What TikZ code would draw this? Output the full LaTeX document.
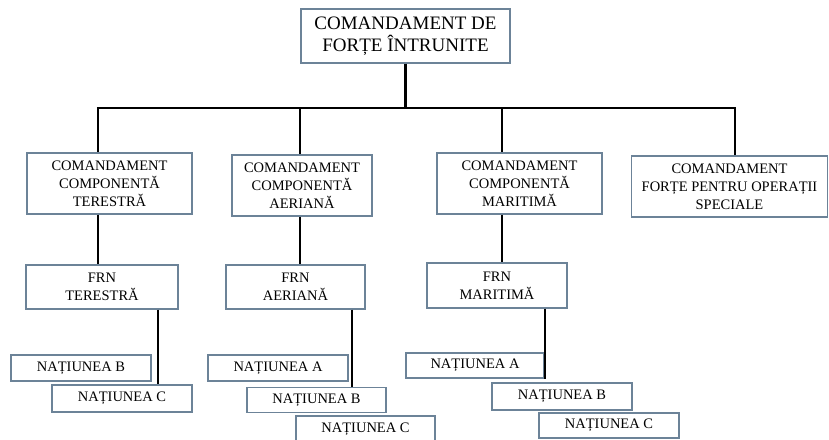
\documentclass[tikz,border=0pt]{standalone}
\usepackage{fontspec}
\setmainfont{Liberation Serif}
\usetikzlibrary{positioning,calc}
\definecolor{Frame}{HTML}{6C8398}
\tikzset{
  unit/.style={draw=Frame,line width=1.1pt,fill=white,inner sep=0pt,align=center,
    font=\fontsize{14.5}{18}\selectfont},
  link/.style={line width=2.2pt,black},
}

\begin{document}
\begin{tikzpicture}[x=1pt,y=-1pt]
        \useasboundingbox (0,0) rectangle (829,439);
        % comandament de varf
        \node[unit,minimum width=209,minimum height=54,font=\fontsize{19}{22}\selectfont] (top) at (405.5,36) {COMANDAMENT DE\\FORȚE ÎNTRUNITE};
        % componente
        \node[unit,minimum width=165,minimum height=61] (cct) at (109.5,183.5) {COMANDAMENT\\COMPONENTĂ\\TERESTRĂ};
        \node[unit,minimum width=140,minimum height=61] (cca) at (302,185.5) {COMANDAMENT\\COMPONENTĂ\\AERIANĂ};
        \node[unit,minimum width=165,minimum height=61] (ccm) at (519.5,183.5) {COMANDAMENT\\COMPONENTĂ\\MARITIMĂ};
        \node[unit,minimum width=196,minimum height=61] (cfos) at (729.5,186.5) {COMANDAMENT\\FORȚE PENTRU OPERAȚII\\SPECIALE};
        % FRN
        \node[unit,minimum width=152,minimum height=44] (frnt) at (102,287) {FRN\\TERESTRĂ};
        \node[unit,minimum width=139,minimum height=44] (frna) at (295.5,287) {FRN\\AERIANĂ};
        \node[unit,minimum width=140,minimum height=45] (frnm) at (497,285.5) {FRN\\MARITIMĂ};
        % natiuni
        \node[unit,minimum width=140,minimum height=26] (tb) at (81,368) {NAȚIUNEA B};
        \node[unit,minimum width=140,minimum height=27] (tc) at (122,398.5) {NAȚIUNEA C};
        \node[unit,minimum width=140,minimum height=26] (aa) at (278,368) {NAȚIUNEA A};
        \node[unit,minimum width=139,minimum height=25] (ab) at (316.5,400) {NAȚIUNEA B};
        \node[unit,minimum width=139,minimum height=26] (ac) at (365.5,429) {NAȚIUNEA C};
        \node[unit,minimum width=138,minimum height=25] (ma) at (475,365.5) {NAȚIUNEA A};
        \node[unit,minimum width=140,minimum height=27] (mb) at (562,396.5) {NAȚIUNEA B};
        \node[unit,minimum width=140,minimum height=25] (mc) at (609,425.5) {NAȚIUNEA C};
        % bara orizontala
        \coordinate (xt) at (98,108);
        \coordinate (xa) at (300,108);
        \coordinate (xm) at (502,108);
        \coordinate (xs) at (735,108);
        \draw[link] (top.south) -- (top |- xt);
        \draw[link] ([xshift=-1.1pt]xt) -- ([xshift=1.1pt]xs);
        \draw[link] (xt) -- (xt |- cct.north);
        \draw[link] (xa) -- (xa |- cca.north);
        \draw[link] (xm) -- (xm |- ccm.north);
        \draw[link] (xs) -- (xs |- cfos.north);
        \draw[link] (cct.south -| xt) -- (frnt.north -| xt);
        \draw[link] (cca.south -| xa) -- (frna.north -| xa);
        \draw[link] (ccm.south -| xm) -- (frnm.north -| xm);
        \draw[link] ([xshift=56pt]frnt.south) -- ([xshift=56pt]frnt.south |- tc.north);
        \draw[link] ([xshift=56.5pt]frna.south) -- ([xshift=56.5pt]frna.south |- ab.north);
        \draw[link] ([xshift=48pt]frnm.south) -- ([xshift=48pt]frnm.south |- ma.south);
      \end{tikzpicture}
\end{document}
